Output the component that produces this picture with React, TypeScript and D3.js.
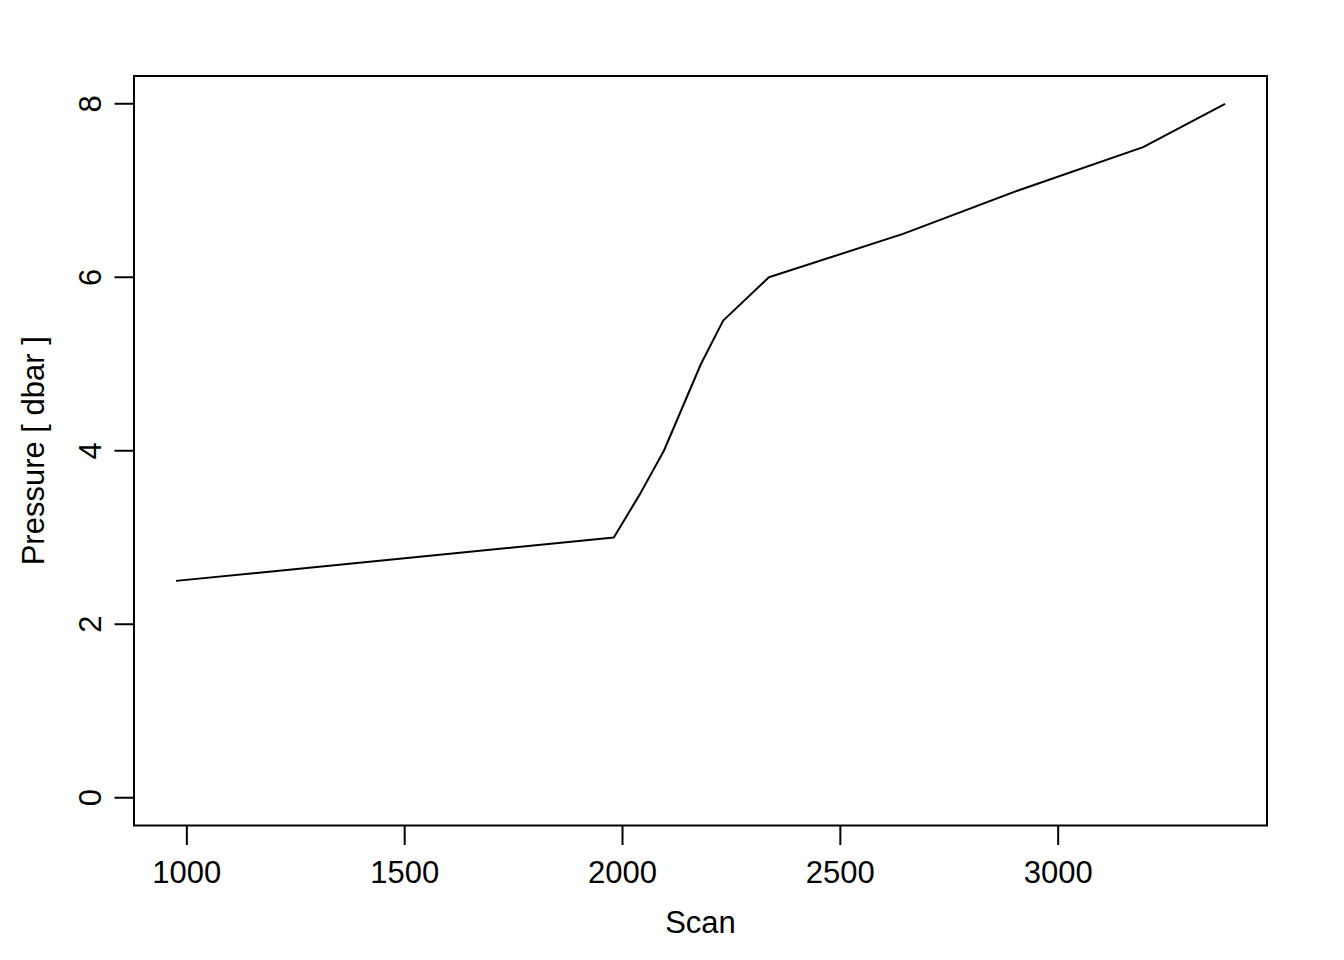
import React from "react";
import * as d3 from "d3";

const scans = [975, 1980, 2040, 2095, 2180, 2231, 2336, 2644, 2908, 3195, 3383];
const pressures = [2.5, 3.0, 3.5, 4.0, 5.0, 5.5, 6.0, 6.5, 7.0, 7.5, 8.0];
const xTicks = [1000, 1500, 2000, 2500, 3000];
const yTicks = [0, 2, 4, 6, 8];
const xLabel = "Scan";
const yLabel = "Pressure [ dbar ]";

const W = 1344, H = 960;
const left = 134, right = 1267, top = 76, bottom = 825.5;
const FONT = "'Liberation Sans', Arial, sans-serif";
const FS = 31;

export default function App() {
  const xExt = d3.extent(scans) as [number, number];
  const xPad = (xExt[1] - xExt[0]) * 0.04;
  const x = d3.scaleLinear().domain([xExt[0] - xPad, xExt[1] + xPad]).range([left, right]);
  const yPad = 8 * 0.04;
  const y = d3.scaleLinear().domain([0 - yPad, 8 + yPad]).range([bottom, top]);
  const line = d3.line<number>().x((_, i) => x(scans[i])).y((d) => y(d));
  return (
    <svg width={W} height={H} style={{ position: "absolute", left: 0, top: 0, background: "#fff" }} fontFamily={FONT}>
      <rect x={0} y={0} width={W} height={H} fill="#fff" />
      <path d={line(pressures) || ""} fill="none" stroke="#000" strokeWidth={2} strokeLinejoin="round" />
      <rect x={left} y={top} width={right - left} height={bottom - top} fill="none" stroke="#000" strokeWidth={2} />
      {xTicks.map((t) => (
        <g key={"x" + t}>
          <line x1={x(t)} x2={x(t)} y1={bottom} y2={bottom + 19.5} stroke="#000" strokeWidth={2} />
          <text x={x(t)} y={883} textAnchor="middle" fontSize={FS}>{t}</text>
        </g>
      ))}
      {yTicks.map((t) => (
        <g key={"y" + t}>
          <line x1={left} x2={left - 19.5} y1={y(t)} y2={y(t)} stroke="#000" strokeWidth={2} />
          <text transform={`translate(${100.5},${y(t)}) rotate(-90)`} textAnchor="middle" fontSize={FS}>{t}</text>
        </g>
      ))}
      <text x={(left + right) / 2} y={933} textAnchor="middle" fontSize={FS}>{xLabel}</text>
      <text transform={`translate(${44},${(top + bottom) / 2}) rotate(-90)`} textAnchor="middle" fontSize={FS}>{yLabel}</text>
    </svg>
  );
}
